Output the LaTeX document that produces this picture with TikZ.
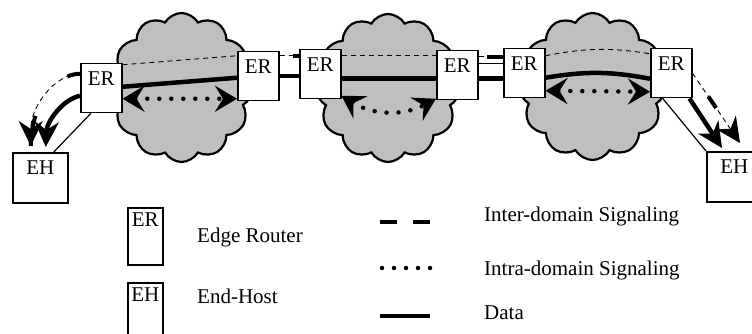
\documentclass[tikz,border=0pt]{standalone}
\usepackage{fontspec}
\setmainfont{Liberation Serif}
\usetikzlibrary{arrows.meta,shapes.symbols}

\begin{document}
\begin{tikzpicture}[x=1pt,y=-1pt,font=\fontsize{21}{25}\selectfont,
  dom/.style={cloud,cloud puffs=12,cloud puff arc=120,draw,line width=2.2pt,fill=black!25,inner sep=0pt},
  er/.style={draw,fill=white,line width=1.5pt,anchor=north west,minimum width=41pt,minimum height=49pt,inner sep=3pt,text height=19pt,text depth=24pt},
  eh/.style={er,minimum width=55pt,minimum height=50pt,text depth=25pt},
  legbox/.style={draw,fill=white,line width=1.5pt,anchor=north west,minimum width=35pt,minimum height=57pt,inner sep=2pt,text height=17pt,text depth=36pt},
  inter/.style={line width=0.9pt,dash pattern=on 5pt off 4pt},
  intra/.style={line width=4.5pt,line cap=round,dash pattern=on 0pt off 12pt},
  data/.style={line width=4.5pt},
  tipi/.style={arrows={Stealth[length=22pt,width=26pt,inset=8pt]-Stealth[length=22pt,width=26pt,inset=8pt]}},
  tipe/.style={arrows={-Stealth[length=25pt,width=24pt,inset=8pt]}}]
\useasboundingbox (0,0) rectangle (752,334);
\node[dom,minimum width=143pt,minimum height=149pt] (d1) at (181.5,87.5) {};
\node[dom,minimum width=144pt,minimum height=148pt] (d2) at (388,88) {};
\node[dom,minimum width=147pt,minimum height=147pt] (d3) at (592.5,86.5) {};
\node[er] (e1) at (80,63) {ER};
\node[er] (e2) at (237,51) {ER};
\node[er] (e3) at (299,49) {ER};
\node[er] (e4) at (436,50) {ER};
\node[er] (e5) at (503,48) {ER};
\node[er] (e6) at (650,48) {ER};
\node[eh] (hl) at (12,152) {EH};
\node[eh] (hr) at (706,151) {EH};
\draw[inter] ([yshift=23.5pt]e1.east) -- ([yshift=20.5pt]e2.west);
\draw[data] ([yshift=1.5pt]e1.east) -- ([yshift=-1.5pt]e2.west);
\draw[intra,tipi] ([yshift=-10.5pt]e1.east) -- ([yshift=-22.5pt]e2.west);
\draw[inter] ([yshift=20.5pt]e2.east) -- ([yshift=18.5pt]e3.west);
\draw[line width=4pt] ([xshift=-6pt,yshift=18.5pt]e3.west) -- ([yshift=18.5pt]e3.west);
\draw[data] (e2.east) -- ([yshift=-2pt]e3.west);
\draw[inter] ([yshift=18.5pt]e3.east) -- ([yshift=19.5pt]e4.west);
\draw[data] ([yshift=-4.5pt]e3.east) -- ([yshift=-3.5pt]e4.west);
\draw[intra,tipi] ([yshift=-21.5pt]e3.east) to[bend right=30] ([yshift=-23.5pt]e4.west);
\draw[inter] ([yshift=18.5pt]e4.east) -- ([yshift=16.5pt]e5.west);
\draw[line width=4pt] ([xshift=-16pt,yshift=16.5pt]e5.west) -- ([yshift=16.5pt]e5.west);
\draw[line width=1.2pt] ([yshift=11.5pt]e4.east) -- ([yshift=9.5pt]e5.west);
\draw[data] ([yshift=-3.5pt]e4.east) -- ([yshift=-5.5pt]e5.west);
\draw[inter] ([yshift=17.5pt]e5.east) to[bend left=10] ([yshift=19.5pt]e6.west);
\draw[data] ([yshift=-4.5pt]e5.east) to[bend left=10] ([yshift=-5.5pt]e6.west);
\draw[intra,tipi] ([yshift=-17.5pt]e5.east) -- ([yshift=-18.5pt]e6.west);
\draw[line width=1.2pt] ([xshift=-10.5pt]e1.south) -- ([xshift=13.5pt]hl.north);
\draw[data,tipe] ([yshift=-7.5pt]e1.west) .. controls +(-18,4) and +(1,-25) .. ([xshift=5.5pt,yshift=5pt]hl.north);
\draw[inter,tipe] ([yshift=14.5pt]e1.west) .. controls +(-25,0) and +(0,-40) .. ([xshift=-9.5pt,yshift=6pt]hl.north);
\draw[line width=4pt,dash pattern=on 13pt off 52pt on 60pt off 10pt] ([yshift=14.5pt]e1.west) .. controls +(-25,0) and +(0,-40) .. ([xshift=-9.5pt,yshift=6pt]hl.north);
\draw[line width=1.2pt] ([xshift=-8.5pt]e6.south) -- (hr.north west);
\draw[data,tipe] ([xshift=-3pt]e6.south east) -- ([xshift=16pt,yshift=3pt]hr.north west);
\draw[inter,tipe] (e6.east) -- ([xshift=34pt,yshift=8pt]hr.north west);
\draw[line width=4pt,dash pattern=on 14pt off 100pt,dash phase=86pt] (e6.east) -- ([xshift=34pt,yshift=8pt]hr.north west);
\node[legbox] (ler) at (127,207) {ER};
\node[legbox] (leh) at (127,282) {EH};
\node[anchor=base west,inner sep=0pt] (ter) at (197,242) {Edge Router};
\node[anchor=base west,inner sep=0pt] (teh) at (197,303) {End-Host};
\node[anchor=base west,inner sep=0pt] (tinter) at (484,221) {Inter-domain Signaling};
\node[anchor=base west,inner sep=0pt] (tintra) at (484,275) {Intra-domain Signaling};
\node[anchor=base west,inner sep=0pt] (tdata) at (484,319) {Data};
\draw[line width=4.5pt,dash pattern=on 17pt off 16pt] (380,222) -- (430,222);
\draw[intra] (382,268) -- (431,268);
\draw[data] (380,316) -- (430,316);
\end{tikzpicture}
\end{document}
